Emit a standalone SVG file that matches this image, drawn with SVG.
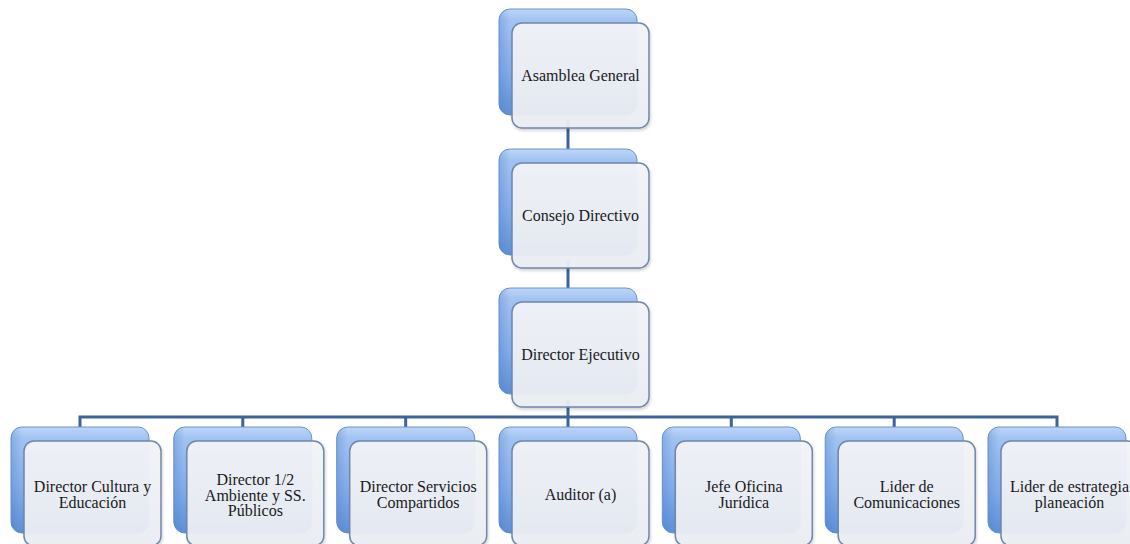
<svg xmlns="http://www.w3.org/2000/svg" width="1130" height="544" viewBox="0 0 1130 544">
  <defs>
    <linearGradient id="backFill" x1="0" y1="0" x2="0" y2="1">
      <stop offset="0" stop-color="#bdd6f7"/>
      <stop offset="0.1" stop-color="#a3c4f2"/>
      <stop offset="0.6" stop-color="#82aceb"/>
      <stop offset="1" stop-color="#5f90d8"/>
    </linearGradient>
    <linearGradient id="backShade" x1="0" y1="0" x2="1" y2="0">
      <stop offset="0" stop-color="#4576c0" stop-opacity="0.3"/>
      <stop offset="0.08" stop-color="#4576c0" stop-opacity="0"/>
    </linearGradient>
    <linearGradient id="frontFill" x1="0" y1="0" x2="0" y2="1">
      <stop offset="0" stop-color="#f2f4f8"/>
      <stop offset="1" stop-color="#eaedf2"/>
    </linearGradient>
    <filter id="soft" x="-10%" y="-10%" width="125%" height="125%">
      <feGaussianBlur in="SourceAlpha" stdDeviation="1.5"/>
      <feOffset dx="1" dy="2"/>
      <feComponentTransfer><feFuncA type="linear" slope="0.18"/></feComponentTransfer>
      <feMerge><feMergeNode/><feMergeNode in="SourceGraphic"/></feMerge>
    </filter>
    <!-- one org-chart card: blue back tab with a pale card laid over it -->
    <g id="card">
      <rect x="0" y="0" width="138" height="106" rx="11" fill="url(#backFill)" stroke="#6a93cf" stroke-width="1"/>
      <rect x="0" y="0" width="138" height="106" rx="11" fill="url(#backShade)"/>
      <rect x="13" y="14" width="137" height="105" rx="10" fill="url(#frontFill)" fill-opacity="0.95" stroke="#6f87aa" stroke-width="1.5" filter="url(#soft)"/>
    </g>
  </defs>
  <style>
    .lbl { font-family: 'Liberation Serif', 'Tinos', 'DejaVu Serif', serif; font-size: 16px; fill: #1a1a1a; text-anchor: middle; }
    .wire { fill: none; stroke: #3e6399; stroke-width: 3; stroke-linejoin: miter; }
  </style>

  <rect width="1130" height="544" fill="#ffffff"/>

  <g id="connectors">
    <path class="wire" d="M568 120 V160"/>
    <path class="wire" d="M568 260 V300"/>
    <path class="wire" d="M568 400 V417"/>
    <path class="wire" d="M80 430 V417 H1057 V430"/>
    <path class="wire" d="M242.8 417 V430 M405.7 417 V430 M568 417 V430 M731.3 417 V430 M894.2 417 V430"/>
  </g>

  <g id="asamblea">
    <use href="#card" x="499" y="9"/>
    <text class="lbl" font-family="Liberation Serif, serif" x="580.5" y="81">Asamblea General</text>
  </g>
  <g id="consejo">
    <use href="#card" x="499" y="149"/>
    <text class="lbl" x="580.5" y="221">Consejo Directivo</text>
  </g>
  <g id="ejecutivo">
    <use href="#card" x="499" y="288"/>
    <text class="lbl" x="580.5" y="360">Director Ejecutivo</text>
  </g>

  <g id="cultura">
    <use href="#card" x="11" y="427"/>
    <text class="lbl" x="92.5" y="492">Director Cultura y</text>
    <text class="lbl" x="92.5" y="507.5">Educación</text>
  </g>
  <g id="ambiente">
    <use href="#card" x="173.8" y="427"/>
    <text class="lbl" x="255.3" y="485">Director 1/2</text>
    <text class="lbl" x="255.3" y="500.5">Ambiente y SS.</text>
    <text class="lbl" x="255.3" y="516">Públicos</text>
  </g>
  <g id="servicios">
    <use href="#card" x="336.7" y="427"/>
    <text class="lbl" x="418.2" y="492">Director Servicios</text>
    <text class="lbl" x="418.2" y="507.5">Compartidos</text>
  </g>
  <g id="auditor">
    <use href="#card" x="499" y="427"/>
    <text class="lbl" x="580.5" y="499.5">Auditor (a)</text>
  </g>
  <g id="juridica">
    <use href="#card" x="662.3" y="427"/>
    <text class="lbl" x="743.8" y="492">Jefe Oficina</text>
    <text class="lbl" x="743.8" y="507.5">Jurídica</text>
  </g>
  <g id="comunicaciones">
    <use href="#card" x="825.2" y="427"/>
    <text class="lbl" x="906.7" y="492">Lider de</text>
    <text class="lbl" x="906.7" y="507.5">Comunicaciones</text>
  </g>
  <g id="estrategia">
    <use href="#card" x="988" y="427"/>
    <text class="lbl" x="1069.5" y="492">Lider de estrategia</text>
    <text class="lbl" x="1069.5" y="507.5">planeación</text>
  </g>
</svg>
